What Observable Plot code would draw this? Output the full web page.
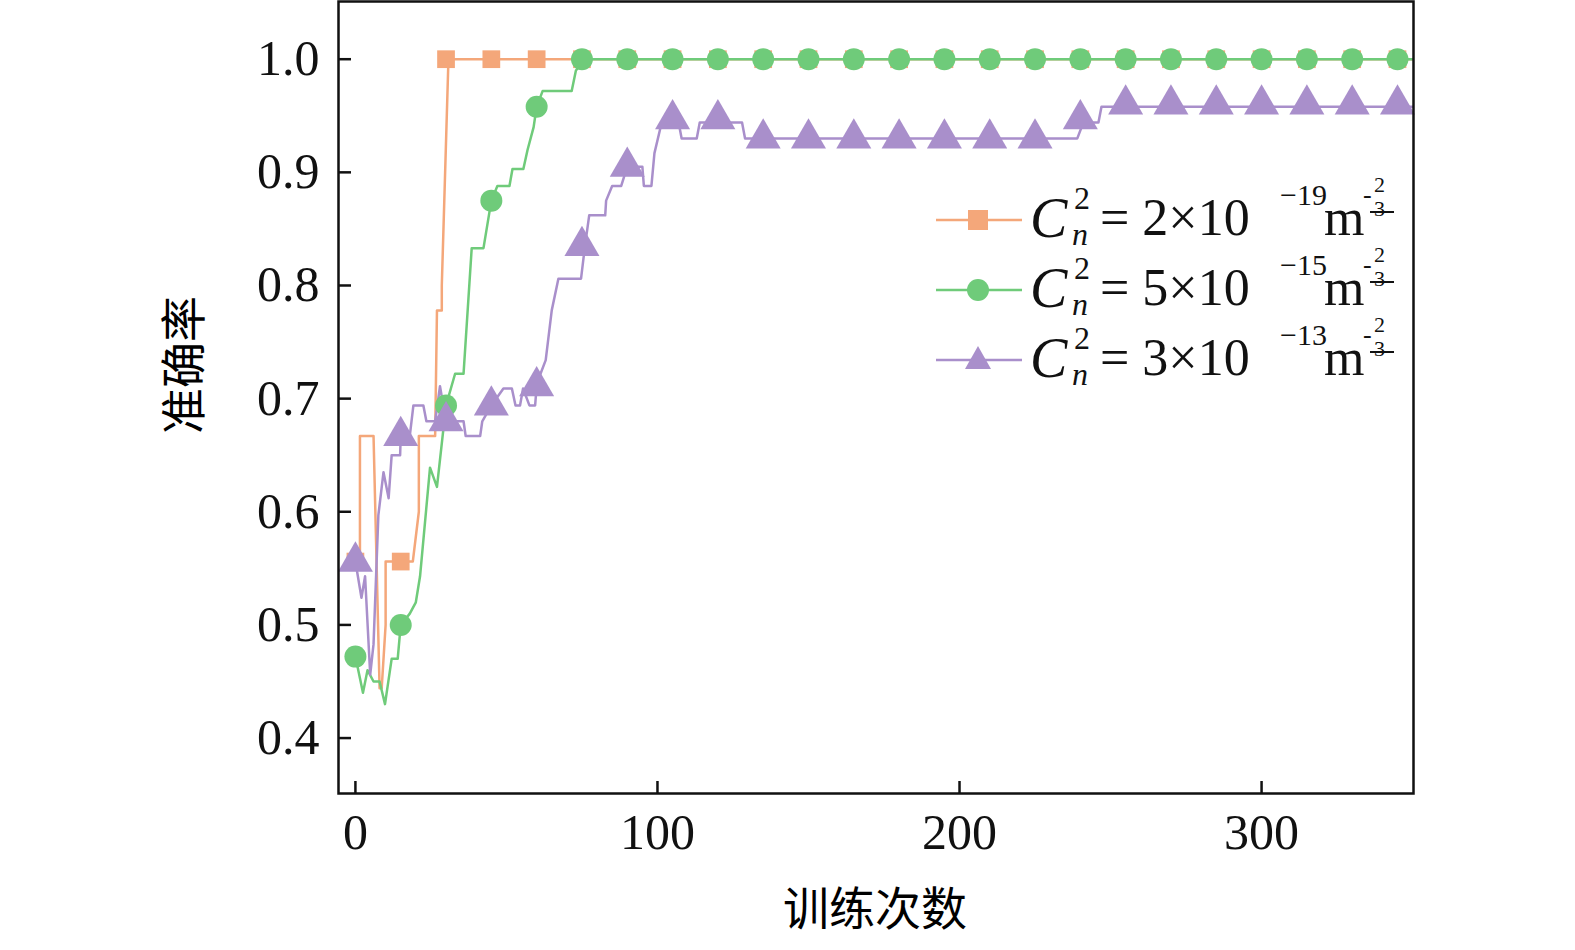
<!DOCTYPE html>
<html><head><meta charset="utf-8">
<script src="https://cdn.jsdelivr.net/npm/d3@7"></script>
<script src="https://cdn.jsdelivr.net/npm/@observablehq/plot@0.6"></script>
<style>
body{margin:0;background:#fff;}
#wrap{position:relative;width:1575px;height:950px;font-family:"Liberation Serif",serif;}
.row{position:absolute;left:1030px;width:400px;height:60px;font-family:"Liberation Serif",serif;color:#111;line-height:1;white-space:nowrap;}
.row span{position:absolute;}
</style></head><body><div id="wrap"></div>
<script>
const seriesNames = ["2e-19","5e-15","3e-13"];
const colors = ["#F4A77A","#6FCB7A","#A98FCB"];
const orangeX = [0,1.5,1.5,6,8,8.7,10,10,19,21,21,26.4,27,28.6,28.6,30.8,350];
const orangeY = [0.556,0.556,0.667,0.667,0.444,0.444,0.5,0.556,0.556,0.6,0.667,0.667,0.778,0.778,0.8,1.0,1.0];
const greenX = [0,2.5,4,6,8,9.8,12,14,15,18,20,21.4,24.7,27,30,33,35.8,38.5,42.4,45,47,51,52,55.6,57,59,60,62,71.6,73,76,350];
const greenY = [0.472,0.44,0.46,0.45,0.45,0.43,0.47,0.47,0.5,0.51,0.52,0.543,0.639,0.622,0.694,0.722,0.722,0.833,0.833,0.875,0.888,0.888,0.903,0.903,0.92,0.94,0.958,0.972,0.972,0.99,1.0,1.0];
const purpleX = [0,2,3.2,4.9,6,7.6,9.3,11,12,14.8,15,18,19.2,22.5,23.5,26.4,28,30,35.8,36.5,41.3,42,45,49,51.8,53,54.5,55.5,57.6,59.5,60,61,63,65,67.2,74.7,76,77.4,82.7,83,85,88,90,95,95.5,98,99,101.4,107,108,113,114,128,129,239,241,246,247,350];
const purpleY = [0.556,0.524,0.543,0.456,0.483,0.597,0.635,0.612,0.65,0.65,0.667,0.667,0.694,0.694,0.68,0.68,0.711,0.68,0.68,0.667,0.667,0.68,0.694,0.709,0.709,0.694,0.694,0.709,0.694,0.694,0.711,0.72,0.734,0.778,0.806,0.806,0.835,0.862,0.862,0.875,0.888,0.888,0.905,0.905,0.888,0.888,0.917,0.944,0.944,0.93,0.93,0.944,0.944,0.93,0.93,0.944,0.944,0.958,0.958];
const markerX = d3.range(0,350,15);
const orangeM = [0.556,0.556,1,1,1,1,1,1,1,1,1,1,1,1,1,1,1,1,1,1,1,1,1,1];
const greenM = [0.472,0.5,0.694,0.875,0.958,1,1,1,1,1,1,1,1,1,1,1,1,1,1,1,1,1,1,1];
const purpleM = [0.556,0.667,0.68,0.694,0.711,0.835,0.905,0.947,0.947,0.93,0.93,0.93,0.93,0.93,0.93,0.93,0.947,0.96,0.96,0.96,0.96,0.96,0.96,0.96];
const xTicks = [0,100,200,300];
const yTicks = [0.4,0.5,0.6,0.7,0.8,0.9,1.0];

const L = (xs,ys)=>xs.map((x,i)=>({x,y:ys[i]}));
const lines=[L(orangeX,orangeY),L(greenX,greenY),L(purpleX,purpleY)];
const marks=[L(markerX,orangeM),L(markerX,greenM),L(markerX,purpleM)];

const plot = Plot.plot({
  width:1575,height:950,
  marginLeft:338,marginRight:162,marginTop:1,marginBottom:157,
  style:{fontFamily:"Liberation Serif",fontSize:"50px",color:"#111",background:"#fff"},
  x:{domain:[-5.6,350.3],label:null},
  y:{domain:[0.351,1.051],label:null},
  marks:[
    Plot.axisX({ticks:xTicks,tickSize:-12,tickPadding:32,tickFormat:d=>d,fontSize:50,strokeWidth:2.5,label:null}),
    Plot.axisY({ticks:yTicks,tickSize:-13,tickPadding:32,tickFormat:d=>d.toFixed(1),fontSize:50,strokeWidth:2.5,label:null}),
    Plot.line(lines[0],{x:"x",y:"y",stroke:colors[0],strokeWidth:2.5}),
    Plot.line(lines[1],{x:"x",y:"y",stroke:colors[1],strokeWidth:2.5}),
    Plot.line(lines[2],{x:"x",y:"y",stroke:colors[2],strokeWidth:2.5}),
    Plot.dot(marks[0],{x:"x",y:"y",symbol:"square",r:10,fill:colors[0]}),
    Plot.dot(marks[1],{x:"x",y:"y",symbol:"circle",r:11,fill:colors[1]}),
    Plot.dot(marks[2],{x:"x",y:"y",symbol:"triangle",r:13,fill:colors[2]}),
    Plot.frame({stroke:"#111",strokeWidth:2.5})
  ]
});
const wrap=document.getElementById("wrap");
wrap.appendChild(plot);
const add=(html,style)=>{const d=document.createElement("div");d.innerHTML=html;d.style.cssText="position:absolute;"+style;wrap.appendChild(d);};
add("准确率","left:180px;top:365px;transform:translate(-50%,-50%) rotate(-90deg);font-family:'Noto Sans CJK SC';font-size:46px;white-space:nowrap;");
add("训练次数","left:875px;top:905px;transform:translate(-50%,-50%);font-family:'Noto Sans CJK SC';font-size:46px;white-space:nowrap;");
const exps=["−19","−15","−13"], mant=["2","5","3"];
let sv='<svg width="1575" height="950" style="position:absolute;left:0;top:0">';
[220,290,360].forEach((y,i)=>{
  sv+=`<line x1="936" x2="1022" y1="${y}" y2="${y}" stroke="${colors[i]}" stroke-width="2.5"/>`;
  if(i==0) sv+=`<rect x="968" y="${y-10}" width="20" height="20" fill="${colors[i]}"/>`;
  if(i==1) sv+=`<circle cx="978" cy="${y}" r="11" fill="${colors[i]}"/>`;
  if(i==2) sv+=`<polygon points="978,${y-14} 991,${y+9} 965,${y+9}" fill="${colors[i]}"/>`;
  sv+=`<line x1="1370" x2="1394" y1="${y-8}" y2="${y-8}" stroke="#111" stroke-width="2"/>`;
});
sv+='</svg>';
wrap.insertAdjacentHTML("beforeend",sv);
[220,290,360].forEach((y,i)=>{
  const html=`<div class="row" style="top:${y-30}px">
  <span style="left:0;top:0;font-size:56px;font-style:italic;">C</span>
  <span style="left:44px;top:-8px;font-size:32px;">2</span>
  <span style="left:42px;top:28px;font-size:32px;font-style:italic;">n</span>
  <span style="left:70px;top:2px;font-size:52px;">= ${mant[i]}×10</span>
  <span style="left:250px;top:-10px;font-size:30px;">${exps[i]}</span>
  <span style="left:294px;top:2px;font-size:52px;">m</span>
  <span style="left:333px;top:-8px;font-size:26px;">-</span>
  <span style="left:344px;top:-16px;font-size:22px;">2</span>
  <span style="left:344px;top:8px;font-size:22px;">3</span></div>`;
  wrap.insertAdjacentHTML("beforeend",html);
});
</script></body></html>
